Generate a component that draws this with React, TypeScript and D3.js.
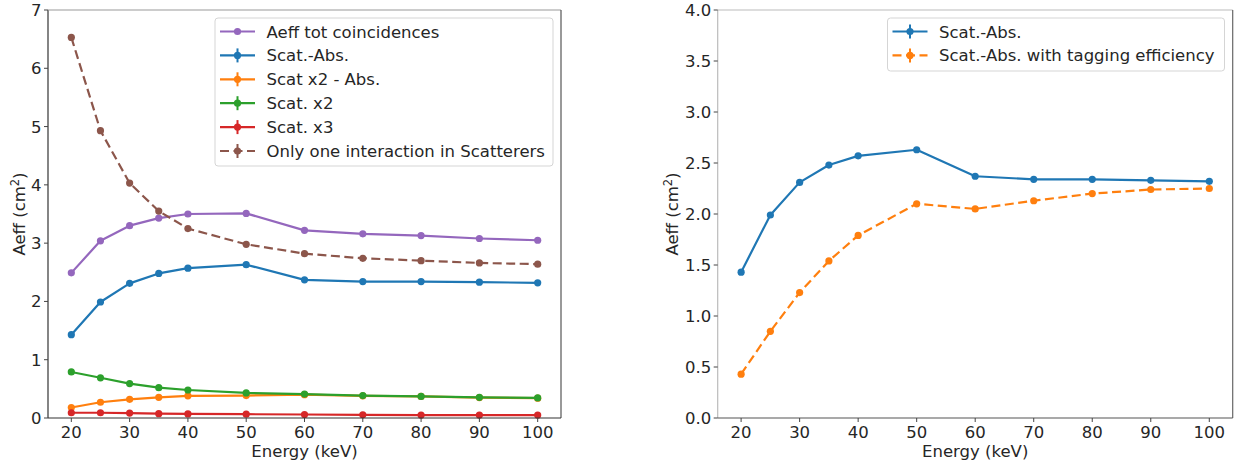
import React from "react";
import * as d3 from "d3";

const energies = [20, 25, 30, 35, 40, 50, 60, 70, 80, 90, 100];

const aeffTot = [2.49, 3.04, 3.30, 3.43, 3.50, 3.51, 3.22, 3.16, 3.13, 3.08, 3.05];
const scatAbs = [1.43, 1.99, 2.31, 2.48, 2.57, 2.63, 2.37, 2.34, 2.34, 2.33, 2.32];
const scat2Abs = [0.18, 0.27, 0.32, 0.355, 0.38, 0.385, 0.40, 0.38, 0.37, 0.35, 0.34];
const scatX2 = [0.79, 0.69, 0.59, 0.52, 0.48, 0.43, 0.41, 0.385, 0.37, 0.355, 0.345];
const scatX3 = [0.09, 0.09, 0.085, 0.075, 0.07, 0.065, 0.06, 0.055, 0.05, 0.05, 0.05];
const onlyOne = [6.53, 4.93, 4.03, 3.55, 3.25, 2.98, 2.82, 2.74, 2.70, 2.66, 2.64];

const scatAbsTag = [0.43, 0.85, 1.23, 1.54, 1.79, 2.10, 2.05, 2.13, 2.20, 2.24, 2.25];

const xTicks = [20, 30, 40, 50, 60, 70, 80, 90, 100];
const leftYTicks = [0, 1, 2, 3, 4, 5, 6, 7];
const rightYTicks = [0, 0.5, 1.0, 1.5, 2.0, 2.5, 3.0, 3.5, 4.0];

const C = {
  blue: "#1f77b4",
  orange: "#ff7f0e",
  green: "#2ca02c",
  red: "#d62728",
  purple: "#9467bd",
  brown: "#8c564b",
};

type Series = { name: string; values: number[]; color: string; dashed?: boolean; errbar?: boolean };

const leftSeries: Series[] = [
  { name: "Aeff tot coincidences", values: aeffTot, color: C.purple },
  { name: "Scat.-Abs.", values: scatAbs, color: C.blue, errbar: true },
  { name: "Scat x2 - Abs.", values: scat2Abs, color: C.orange, errbar: true },
  { name: "Scat. x2", values: scatX2, color: C.green, errbar: true },
  { name: "Scat. x3", values: scatX3, color: C.red, errbar: true },
  { name: "Only one interaction in Scatterers", values: onlyOne, color: C.brown, dashed: true, errbar: true },
];

const rightSeries: Series[] = [
  { name: "Scat.-Abs.", values: scatAbs, color: C.blue, errbar: true },
  { name: "Scat.-Abs. with tagging efficiency", values: scatAbsTag, color: C.orange, dashed: true, errbar: true },
];

const FONT = "DejaVu Sans, sans-serif";
const FS = 16.5;

type PanelProps = {
  x0: number; x1: number; y0: number; y1: number;
  yMax: number; yTicks: number[]; yFmt: (v: number) => string;
  series: Series[];
  legend: { x: number; y: number; w: number; h: number };
  spineLeftColor: string; spineTopColor: string; spineRightColor: string; spineBottomColor: string;
  yLabelX: number;
};

function Panel(p: PanelProps) {
  const x = d3.scaleLinear().domain([16, 104]).range([p.x0, p.x1]);
  const y = d3.scaleLinear().domain([0, p.yMax]).range([p.y1, p.y0]);
  const line = d3.line<number>().x((_, i) => x(energies[i])).y((v) => y(v));
  const rowH = 23.9;
  return (
    <g>
      {p.series.map((s) => (
        <g key={s.name}>
          <path d={line(s.values) || ""} fill="none" stroke={s.color} strokeWidth={2.2}
            strokeDasharray={s.dashed ? "9,4.5" : undefined} strokeLinejoin="round" />
          {s.values.map((v, i) => (
            <circle key={i} cx={x(energies[i])} cy={y(v)} r={3.6} fill={s.color} />
          ))}
        </g>
      ))}
      {/* spines */}
      <line x1={p.x0} x2={p.x0} y1={p.y0} y2={p.y1} stroke={p.spineLeftColor} strokeWidth={1.2} />
      <line x1={p.x0} x2={p.x1} y1={p.y0} y2={p.y0} stroke={p.spineTopColor} strokeWidth={1.2} />
      <line x1={p.x1} x2={p.x1} y1={p.y0} y2={p.y1} stroke={p.spineRightColor} strokeWidth={1.2} />
      <line x1={p.x0} x2={p.x1} y1={p.y1} y2={p.y1} stroke={p.spineBottomColor} strokeWidth={1.2} />
      {/* x ticks */}
      {xTicks.map((t) => (
        <g key={"x" + t}>
          <line x1={x(t)} x2={x(t)} y1={p.y1} y2={p.y1 + 4} stroke="#444" strokeWidth={1} />
          <text x={x(t)} y={p.y1 + 20} textAnchor="middle" fontFamily={FONT} fontSize={FS} fill="#262626">{t}</text>
        </g>
      ))}
      {p.yTicks.map((t) => (
        <g key={"y" + t}>
          <line x1={p.x0 - 4} x2={p.x0} y1={y(t)} y2={y(t)} stroke="#444" strokeWidth={1} />
          <text x={p.x0 - 6.5} y={y(t) + 6} textAnchor="end" fontFamily={FONT} fontSize={FS} fill="#262626">{p.yFmt(t)}</text>
        </g>
      ))}
      <text x={(p.x0 + p.x1) / 2} y={p.y1 + 39} textAnchor="middle" fontFamily={FONT} fontSize={FS} fill="#262626">Energy (keV)</text>
      <text transform={`translate(${p.yLabelX},${(p.y0 + p.y1) / 2}) rotate(-90)`} textAnchor="middle" fontFamily={FONT} fontSize={FS} fill="#262626">
        Aeff (cm<tspan dy={-6} fontSize={11.5}>2</tspan><tspan dy={6}>)</tspan>
      </text>
      {/* legend */}
      <rect x={p.legend.x} y={p.legend.y} width={p.legend.w} height={p.legend.h} rx={3} fill="#fff" fillOpacity={0.85} stroke="#d5d5d5" strokeWidth={1} />
      {p.series.map((s, i) => {
        const ly = p.legend.y + 13.5 + i * rowH;
        const lx = p.legend.x + 5;
        return (
          <g key={"l" + s.name}>
            <line x1={lx} x2={lx + 35} y1={ly} y2={ly} stroke={s.color} strokeWidth={2.2} strokeDasharray={s.dashed ? "9,4.5" : undefined} />
            {s.errbar && <line x1={lx + 17.5} x2={lx + 17.5} y1={ly - 7} y2={ly + 7} stroke={s.color} strokeWidth={2} />}
            <circle cx={lx + 17.5} cy={ly} r={3.6} fill={s.color} />
            <text x={lx + 46.5} y={ly + 6} fontFamily={FONT} fontSize={FS} fill="#262626">{s.name}</text>
          </g>
        );
      })}
    </g>
  );
}

export default function App() {
  return (
    <svg width={1246} height={466} style={{ position: "absolute", left: 0, top: 0, background: "#fff" }}>
      <rect x={0} y={0} width={1246} height={466} fill="#fff" />
      <Panel x0={48} x1={561} y0={10} y1={418} yMax={7} yTicks={leftYTicks} yFmt={(v) => String(v)}
        series={leftSeries} legend={{ x: 215, y: 18, w: 338, h: 148 }}
        spineLeftColor="#333" spineTopColor="#999" spineRightColor="#555" spineBottomColor="#333" yLabelX={24.5} />
      <Panel x0={717.7} x1={1232.7} y0={10} y1={418} yMax={4} yTicks={rightYTicks} yFmt={(v) => v.toFixed(1)}
        series={rightSeries} legend={{ x: 887.5, y: 18, w: 337, h: 53 }}
        spineLeftColor="#bbb" spineTopColor="#bbb" spineRightColor="#666" spineBottomColor="#555" yLabelX={678} />
    </svg>
  );
}
